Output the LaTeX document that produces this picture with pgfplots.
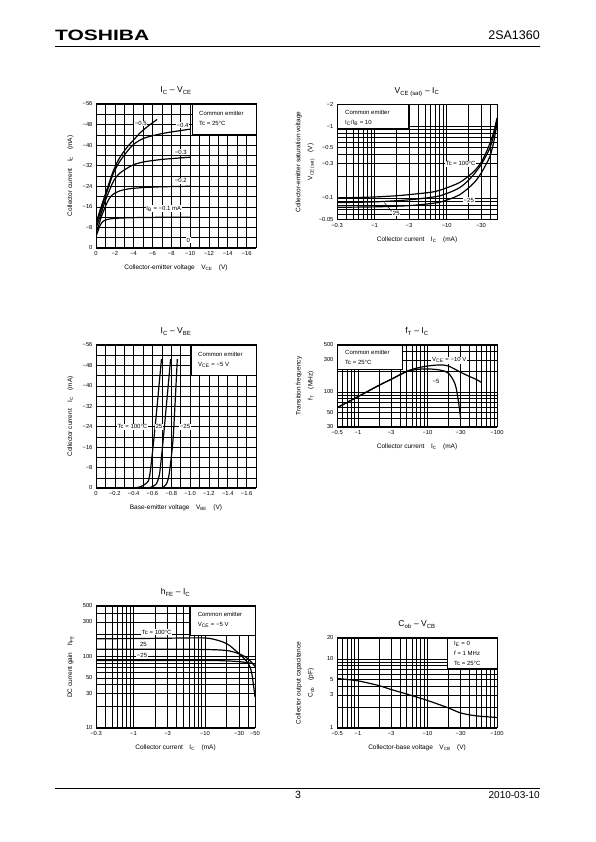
\documentclass[border=0pt]{standalone}
\usepackage{fontspec}
\setmainfont{Liberation Sans}
\usepackage{graphicx}
\usepackage{pgfplots}
\pgfplotsset{compat=1.18}

\newcommand\sub[1]{\textsubscript{#1}}
\newcommand\legTR[4]{%
  \draw[line width=0.7pt, fill=white] (rel axis cs:#1,#2) rectangle (rel axis cs:1,1);
  \node[anchor=north west, align=left, font=\fontsize{6}{10}\selectfont, inner sep=0pt, xshift=7pt, yshift=#3] at (rel axis cs:#1,1) {#4};}
\newcommand\legTL[3]{%
  \draw[line width=0.7pt, fill=white] (rel axis cs:0,#2) rectangle (rel axis cs:#1,1);
  \node[anchor=north west, align=left, font=\fontsize{6}{10}\selectfont, inner sep=0pt, xshift=8pt, yshift=-5pt] at (rel axis cs:0,1) {#3};}
\tikzset{lab/.style={fill=white, inner sep=0.8pt, font=\fontsize{6}{6}\selectfont}}

\pgfplotscreateplotcyclelist{bk}{black,mark=none,line width=1.2pt,smooth\\}

\pgfplotsset{
 ds/.style={
  scale only axis, anchor=south west,
  axis line style={line width=1pt},
  grid=both,
  major grid style={black, line width=0.55pt},
  minor grid style={black, line width=0.55pt},
  major tick length=0pt, minor tick length=0pt,
  tick label style={font=\fontsize{5.8}{6}\selectfont, black},
  label style={font=\fontsize{6.5}{12}\selectfont},
  xlabel style={at={(axis description cs:0.5,0)}, anchor=center, yshift=-20pt},
  ylabel style={at={(axis description cs:-0.16,0.5)}, anchor=center, align=center},
  title style={at={(axis description cs:0.5,1)}, anchor=base, yshift=5pt, inner sep=0pt, font=\fontsize{8.5}{10}\selectfont},
  cycle list name=bk,
 },
}

\begin{document}
\begin{tikzpicture}
\fill[white] (0pt,0pt) rectangle (595pt,842pt);
\path[use as bounding box] (0pt,0pt) rectangle (595pt,842pt);

% header / footer
\node[anchor=base west, inner sep=0] at (55pt,801.3pt) {\scalebox{1.4}[1]{\fontsize{15}{15}\selectfont\bfseries TOSHIBA}};
\node[anchor=base east, inner sep=0, font=\fontsize{12.5}{12.5}\selectfont] at (540pt,802.5pt) {2SA1360};
\draw[line width=1pt] (55pt,795.3pt) -- (540pt,795.3pt);
\draw[line width=1pt] (55pt,53.7pt) -- (540pt,53.7pt);
\node[anchor=base, inner sep=0, font=\fontsize{10.5}{10.5}\selectfont] at (298pt,43.7pt) {3};
\node[anchor=base east, inner sep=0, font=\fontsize{10}{10}\selectfont] at (540pt,43.7pt) {2010-03-10};

% ---------- Chart 1: IC - VCE ----------
\begin{axis}[ds, at={(96pt,594pt)}, width=160pt, height=144pt,
  xmin=0, xmax=17, ymin=0, ymax=56,
  xtick={0,2,4,6,8,10,12,14,16}, xticklabels={0,−2,−4,−6,−8,−10,−12,−14,−16},
  minor xtick={1,3,5,7,9,11,13,15},
  ytick={0,8,16,24,32,40,48,56}, yticklabels={0,−8,−16,−24,−32,−40,−48,−56},
  minor ytick={4,12,20,28,36,44,52},
  title={I\sub{C} – V\sub{CE}},
  xlabel={Collector-emitter voltage\quad V\sub{CE}\quad (V)},
  ylabel={Collector current\quad I\sub{C}\quad (mA)}]
\addplot coordinates {(0,4.4)(0.2,6.5)(0.4,8.5)(0.6,9.8)(0.85,10.6)(1.2,11.1)(1.9,11.5)(3,11.7)(4,11.8)(6,11.9)(8,12)(10,12)};
\addplot coordinates {(0,5.7)(0.3,9)(0.6,12.5)(0.85,14.8)(1.2,17.8)(1.56,20)(2,21.3)(2.6,22.3)(3.5,23)(5,23.5)(7,23.8)(10,24)};
\addplot coordinates {(0,7.6)(0.5,13)(1,18.5)(1.5,23)(1.9,26.3)(2.5,29)(3.3,31)(4,32.4)(5.1,33.5)(6.9,34.4)(8.5,34.9)(10,35.3)};
\addplot coordinates {(0,9)(0.5,14.5)(1,20)(1.5,25.5)(1.9,29.5)(2.5,33.5)(3.3,37.5)(4,40.3)(5.1,42.7)(6.9,44.4)(8.5,45.4)(10,46.2)};
\addplot coordinates {(0,9.6)(0.5,15.5)(1,21)(1.5,26.5)(1.9,30.5)(2.5,35)(3.3,39.2)(4,42)(4.7,44.8)(5.5,47.3)(6.5,50)};
\legTR{0.6}{0.79}{-7pt}{Common emitter\\Tc = 25°C}
\node[lab] at (axis cs:4.75,48.4) {−0.5};
\node[lab] at (axis cs:9.2,47.8) {−0.4};
\node[lab] at (axis cs:9.0,37.3) {−0.3};
\node[lab] at (axis cs:9.0,26.2) {−0.2};
\node[lab] at (axis cs:7.2,15.2) {I\sub{B} = −0.1 mA};
\node[lab] at (axis cs:9.8,3.1) {0};
\end{axis}

% ---------- Chart 2: VCE(sat) - IC ----------
\begin{axis}[ds, xmode=log, ymode=log, at={(337pt,622.5pt)}, width=160pt, height=115pt,
  xmin=0.3, xmax=50, ymin=0.05, ymax=2,
  xtick={0.3,1,3,10,30}, xticklabels={−0.3,−1,−3,−10,−30},
  minor xtick={0.4,0.5,0.6,0.7,0.8,0.9,2,4,5,6,7,8,9,20,40},
  ytick={0.05,0.1,0.3,0.5,1,2}, yticklabels={−0.05,−0.1,−0.3,−0.5,−1,−2},
  minor ytick={0.06,0.07,0.08,0.09,0.2,0.4,0.6,0.7,0.8,0.9},
  title={V\sub{CE (sat)} – I\sub{C}},
  xlabel={Collector current\quad I\sub{C}\quad (mA)},
  ylabel style={at={(axis description cs:-0.2,0.5)}},
  ylabel={Collector-emitter saturation voltage\\V\sub{CE (sat)}\quad (V)}]
\addplot coordinates {(0.3,0.100)(0.5,0.101)(1,0.103)(2,0.107)(3,0.111)(5,0.117)(7,0.123)(10,0.138)(15,0.163)(20,0.2)(25,0.245)(30,0.31)(35,0.42)(40,0.58)(45,0.82)(50,1.3)};
\addplot coordinates {(0.3,0.086)(1,0.088)(3,0.094)(7,0.104)(10,0.115)(15,0.138)(20,0.175)(25,0.225)(30,0.29)(35,0.38)(40,0.5)(45,0.75)(50,1.2)};
\addplot coordinates {(0.3,0.074)(1,0.075)(3,0.078)(7,0.085)(10,0.093)(15,0.11)(20,0.137)(25,0.17)(30,0.22)(35,0.29)(40,0.38)(45,0.6)(50,1.1)};
\legTL{0.444}{0.796}{Common emitter\\I\sub{C}/I\sub{B} = 10}
\node[lab] at (axis cs:15.6,0.30) {Tc = 100°C};
\node[lab] at (axis cs:20.3,0.093) {−25};
\node[lab] at (axis cs:2.0,0.061) {25};
\draw[line width=0.5pt] (axis cs:1.72,0.065) -- (axis cs:1.36,0.086);
\end{axis}

% ---------- Chart 3: IC - VBE ----------
\begin{axis}[ds, at={(96pt,354pt)}, width=160pt, height=143pt,
  xmin=0, xmax=1.7, ymin=0, ymax=56,
  xtick={0,0.2,0.4,0.6,0.8,1.0,1.2,1.4,1.6}, xticklabels={0,−0.2,−0.4,−0.6,−0.8,−1.0,−1.2,−1.4,−1.6},
  minor xtick={0.1,0.3,0.5,0.7,0.9,1.1,1.3,1.5},
  ytick={0,8,16,24,32,40,48,56}, yticklabels={0,−8,−16,−24,−32,−40,−48,−56},
  minor ytick={4,12,20,28,36,44,52},
  title={I\sub{C} – V\sub{BE}},
  xlabel={Base-emitter voltage\quad V\sub{BE}\quad (V)},
  ylabel={Collector current\quad I\sub{C}\quad (mA)}]
\addplot+[tension=0.4] coordinates {(0.411,0)(0.482,0.65)(0.554,2.6)(0.579,7.2)(0.625,22.8)(0.696,50.5)};
\addplot+[tension=0.4] coordinates {(0.543,0)(0.6,0.5)(0.643,1.7)(0.665,4)(0.679,6.5)(0.714,18.9)(0.793,50.5)};
\addplot+[tension=0.4] coordinates {(0.68,0)(0.72,0.5)(0.75,1.7)(0.77,4)(0.786,7.8)(0.821,20.2)(0.864,50.5)};
\legTR{0.594}{0.79}{-7pt}{Common emitter\\V\sub{CE} = −5 V}
\node[lab] at (axis cs:0.388,24) {Tc = 100°C};
\node[lab] at (axis cs:0.668,24) {25};
\node[lab] at (axis cs:0.946,24) {−25};
\end{axis}

% ---------- Chart 4: fT - IC ----------
\begin{axis}[ds, xmode=log, ymode=log, at={(337pt,415pt)}, width=160pt, height=82pt,
  xmin=0.5, xmax=100, ymin=30, ymax=500,
  xtick={0.5,1,3,10,30,100}, xticklabels={−0.5,−1,−3,−10,−30,−100},
  minor xtick={0.6,0.7,0.8,0.9,2,4,5,6,7,8,9,20,40,50,60,70,80,90},
  ytick={30,50,100,300,500}, yticklabels={30,50,100,300,500},
  minor ytick={40,60,70,80,90,200,400},
  title={f\sub{T} – I\sub{C}},
  xlabel={Collector current\quad I\sub{C}\quad (mA)},
  ylabel style={at={(axis description cs:-0.2,0.5)}},
  ylabel={Transition frequency\\f\sub{T}\quad (MHz)}]
\addplot coordinates {(0.5,58)(1,85)(2,125)(3,154)(5,202)(7,226)(10,243)(15,252)(20,243)(30,196)(40,170)(50,154)(60,138)};
\addplot coordinates {(0.5,58)(1,85)(2,125)(3,154)(5,200)(7,216)(10,220)(15,212)(20,190)(25,130)(28,70)(30,40)};
\legTL{0.406}{0.707}{Common emitter\\Tc = 25°C}
\node[lab] at (axis cs:20.6,297) {V\sub{CE} = −10 V};
\node[lab] at (axis cs:13.3,144) {−5};
\end{axis}

% ---------- Chart 5: hFE - IC ----------
\begin{axis}[ds, xmode=log, ymode=log, at={(96pt,114pt)}, width=159pt, height=122pt,
  xmin=0.3, xmax=50, ymin=10, ymax=500,
  xtick={0.3,1,3,10,30,50}, xticklabels={−0.3,−1,−3,−10,−30,−50},
  minor xtick={0.4,0.5,0.6,0.7,0.8,0.9,2,4,5,6,7,8,9,20,40},
  ytick={10,30,50,100,300,500}, yticklabels={10,30,50,100,300,500},
  minor ytick={20,40,60,70,80,90,200,400},
  title={h\sub{FE} – I\sub{C}},
  xlabel={Collector current\quad I\sub{C}\quad (mA)},
  ylabel={DC current gain\quad h\sub{FE}}]
\addplot coordinates {(0.3,175)(1,176)(3,178)(8,180)(12,176)(20,150)(30,108)(40,80)(45,58)(50,27)};
\addplot coordinates {(0.3,125)(3,125)(10,124)(20,120)(30,108)(40,92)(50,72)};
\addplot coordinates {(0.3,87)(10,87)(20,86)(30,84)(40,81)(50,78)};
\legTR{0.595}{0.763}{-6pt}{Common emitter\\V\sub{CE} = −5 V}
\node[lab] at (axis cs:2.12,215) {Tc = 100°C};
\node[lab] at (axis cs:1.38,147) {25};
\node[lab] at (axis cs:1.32,103) {−25};
\end{axis}

% ---------- Chart 6: Cob - VCB ----------
\begin{axis}[ds, xmode=log, ymode=log, at={(337pt,114pt)}, width=160pt, height=90pt,
  xmin=0.5, xmax=100, ymin=1, ymax=20,
  xtick={0.5,1,3,10,30,100}, xticklabels={−0.5,−1,−3,−10,−30,−100},
  minor xtick={0.6,0.7,0.8,0.9,2,4,5,6,7,8,9,20,40,50,60,70,80,90},
  ytick={1,3,5,10,20}, yticklabels={1,3,5,10,20},
  minor ytick={2,4,6,7,8,9},
  title={C\sub{ob} – V\sub{CB}},
  xlabel={Collector-base voltage\quad V\sub{CB}\quad (V)},
  ylabel style={at={(axis description cs:-0.2,0.5)}},
  ylabel={Collector output capacitance\\C\sub{ob}\quad (pF)}]
\addplot coordinates {(0.5,5.2)(1,4.8)(2,4.1)(3,3.6)(5,3.1)(10,2.5)(20,1.95)(30,1.65)(50,1.5)(100,1.42)};
\legTR{0.6875}{0.667}{-3pt}{I\sub{E} = 0\\f = 1 MHz\\Tc = 25°C}
\end{axis}
\end{tikzpicture}
\end{document}
